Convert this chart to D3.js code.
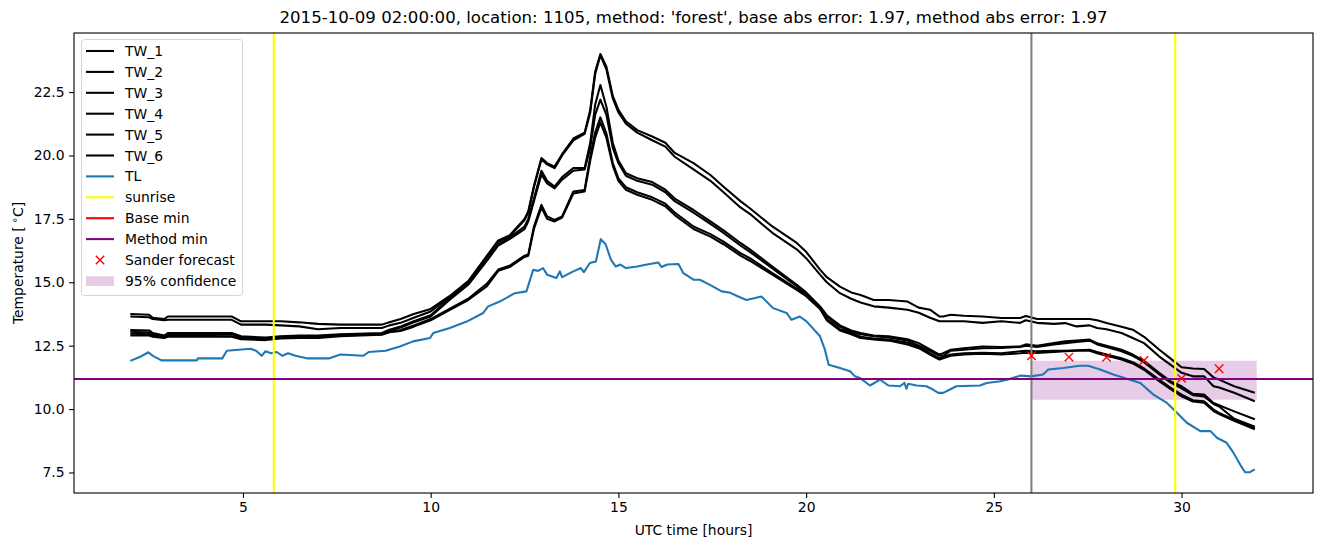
<!DOCTYPE html>
<html><head><meta charset="utf-8">
<script src="https://cdn.jsdelivr.net/npm/d3@7"></script>
<style>body{margin:0;background:#fff}svg{display:block}text{font-family:"DejaVu Sans",sans-serif;fill:#000}</style>
</head><body><svg id="chart" width="1324" height="547"></svg>
<script>
const twHours=[2.0,2.5,2.6,2.9,3.0,4.7,4.95,5.6,6.0,6.5,7.0,7.6,8.7,8.9,9.2,9.55,10.0,10.5,11.0,11.5,11.8,12.1,12.5,12.6,12.75,12.95,13.1,13.3,13.5,13.8,14.1,14.25,14.38,14.52,14.68,14.85,15.0,15.2,15.5,15.9,16.25,16.5,17.0,17.45,17.8,18.25,18.5,19.1,19.75,20.0,20.37,20.55,20.9,21.2,21.45,21.8,22.2,22.7,23.0,23.3,23.55,23.65,23.85,24.2,24.7,25.2,25.7,25.85,26.15,26.6,26.9,27.2,27.55,27.75,28.0,28.4,28.7,29.0,29.4,29.7,30.0,30.3,30.6,30.85,31.0,31.4,31.95];
const tw1=[13.75,13.72,13.6,13.55,13.65,13.65,13.46,13.46,13.46,13.42,13.36,13.33,13.33,13.42,13.55,13.75,13.95,14.45,15.05,16.05,16.65,16.85,17.5,17.8,18.8,19.9,19.7,19.56,20.05,20.67,20.9,21.8,23.3,24.0,23.5,22.35,21.8,21.35,21.0,20.75,20.5,20.1,19.7,19.23,18.77,18.2,17.92,17.2,16.55,16.2,15.5,15.2,14.83,14.6,14.5,14.3,14.3,14.24,14.0,13.92,13.65,13.65,13.72,13.68,13.65,13.59,13.59,13.67,13.55,13.55,13.55,13.55,13.55,13.5,13.39,13.25,13.13,12.85,12.35,12.0,11.65,11.6,11.58,11.25,11.16,10.9,10.64];
const tw2=[13.65,13.62,13.55,13.5,13.52,13.52,13.33,13.33,13.3,13.26,13.15,13.2,13.2,13.3,13.4,13.6,13.85,14.4,15.0,16.0,16.6,16.8,17.45,17.75,18.75,19.85,19.65,19.5,20.0,20.6,20.85,21.7,23.2,23.95,23.4,22.25,21.7,21.25,20.9,20.6,20.35,19.95,19.45,19.0,18.55,17.95,17.7,16.95,16.3,15.95,15.3,15.0,14.57,14.35,14.2,14.05,14.0,13.92,13.8,13.6,13.46,13.46,13.46,13.46,13.4,13.46,13.4,13.5,13.4,13.36,13.39,13.26,13.3,13.2,13.15,13.0,12.8,12.6,12.08,11.75,11.43,11.29,11.29,10.9,10.85,10.64,10.31];
const tw3=[13.12,13.1,13.0,12.9,13.0,13.0,12.87,12.82,12.87,12.9,12.9,12.95,13.0,13.13,13.26,13.46,13.7,14.35,14.95,15.95,16.5,16.75,17.2,17.5,18.3,19.4,19.0,18.77,19.15,19.5,19.5,20.5,22.0,22.78,21.92,20.5,19.8,19.3,19.1,18.95,18.65,18.3,17.85,17.4,17.05,16.55,16.3,15.62,14.9,14.6,14.05,13.7,13.3,13.1,13.0,12.9,12.87,12.75,12.6,12.35,12.15,12.2,12.34,12.4,12.47,12.45,12.47,12.55,12.5,12.6,12.67,12.7,12.74,12.6,12.5,12.34,12.15,11.9,11.43,11.1,10.9,10.6,10.57,10.24,10.15,9.91,9.6];
const tw4=[13.05,13.02,12.95,12.87,12.95,12.95,12.82,12.78,12.85,12.87,12.87,12.93,12.97,13.1,13.22,13.42,13.65,14.3,14.9,15.85,16.45,16.7,17.1,17.4,18.2,19.25,18.9,18.7,19.05,19.4,19.45,20.3,21.6,22.2,21.6,20.3,19.7,19.2,19.0,18.85,18.55,18.2,17.75,17.3,16.95,16.45,16.2,15.55,14.85,14.55,14.0,13.65,13.25,13.05,12.95,12.87,12.82,12.7,12.5,12.3,12.1,12.1,12.3,12.34,12.4,12.41,12.45,12.5,12.45,12.55,12.6,12.65,12.7,12.55,12.45,12.28,12.1,11.85,11.38,11.05,10.82,10.55,10.5,10.2,10.1,9.62,9.3];
const tw5=[12.97,12.95,12.9,12.85,12.9,12.87,12.8,12.74,12.8,12.83,12.83,12.9,12.95,13.05,13.12,13.3,13.55,13.95,14.35,14.95,15.5,15.65,16.05,16.1,17.2,18.05,17.6,17.46,17.6,18.58,18.64,19.96,20.9,21.5,20.87,19.7,19.1,18.75,18.55,18.35,18.1,17.75,17.2,16.9,16.6,16.15,15.95,15.36,14.75,14.5,14.0,13.55,13.15,13.0,12.85,12.78,12.74,12.62,12.45,12.2,12.0,12.05,12.15,12.2,12.22,12.2,12.28,12.3,12.28,12.3,12.3,12.32,12.34,12.25,12.15,12.0,11.85,11.6,11.16,10.85,10.57,10.35,10.31,9.98,9.85,9.58,9.25];
const tw6=[12.9,12.9,12.85,12.8,12.85,12.85,12.75,12.72,12.78,12.8,12.8,12.87,12.93,13.03,13.08,13.25,13.5,13.9,14.3,14.85,15.45,15.6,16.0,16.05,17.1,17.95,17.5,17.4,17.55,18.5,18.58,19.8,20.7,21.3,20.7,19.6,19.0,18.65,18.45,18.25,18.0,17.65,17.1,16.8,16.5,16.05,15.85,15.3,14.7,14.45,13.95,13.5,13.1,12.95,12.8,12.74,12.7,12.55,12.4,12.15,11.95,12.0,12.1,12.15,12.18,12.15,12.2,12.22,12.21,12.25,12.28,12.3,12.3,12.2,12.1,11.95,11.8,11.55,11.1,10.8,10.5,10.3,10.25,9.92,9.8,9.54,9.2];
const tlHours=[2.0,2.25,2.48,2.6,2.83,3.77,3.8,4.45,4.57,5.2,5.35,5.5,5.6,5.75,5.9,6.05,6.2,6.4,6.7,7.3,7.6,8.2,8.35,8.8,9.18,9.53,9.98,10.07,10.51,10.96,11.4,11.53,11.84,12.24,12.55,12.73,12.86,12.99,13.1,13.35,13.44,13.5,13.8,14.0,14.08,14.24,14.4,14.53,14.66,14.8,14.93,15.05,15.2,15.5,15.73,16.06,16.15,16.3,16.6,16.73,17.0,17.17,17.44,17.75,17.95,18.19,18.41,18.81,19.12,19.48,19.61,19.83,20.01,20.37,20.5,20.6,20.9,21.17,21.3,21.43,21.7,21.97,22.19,22.5,22.62,22.67,22.72,22.94,23.2,23.38,23.52,23.65,23.83,24.0,24.63,24.81,25.17,25.35,25.72,25.99,26.31,26.45,26.85,27.29,27.51,27.83,28.18,28.54,28.9,29.25,29.61,29.79,30.14,30.5,30.77,30.94,31.2,31.38,31.56,31.69,31.82,31.95];
const tlValues=[11.9,12.05,12.24,12.1,11.92,11.92,12.0,12.0,12.3,12.38,12.3,12.1,12.28,12.2,12.25,12.1,12.2,12.1,12.0,12.0,12.15,12.1,12.25,12.3,12.47,12.67,12.8,13.0,13.2,13.45,13.79,14.05,14.24,14.57,14.64,15.49,15.45,15.56,15.3,15.17,15.43,15.2,15.43,15.56,15.4,15.76,15.82,16.7,16.5,15.89,15.62,15.7,15.56,15.62,15.69,15.78,15.6,15.7,15.72,15.36,15.1,15.1,14.9,14.64,14.6,14.44,14.3,14.44,13.98,13.79,13.52,13.65,13.46,12.87,12.34,11.75,11.62,11.49,11.29,11.23,10.93,11.16,10.93,10.9,11.03,10.8,11.0,10.93,10.9,10.77,10.64,10.64,10.77,10.9,10.93,11.03,11.1,11.16,11.32,11.29,11.36,11.56,11.62,11.71,11.71,11.56,11.36,11.2,11.03,10.57,10.24,9.98,9.46,9.13,9.13,8.87,8.67,8.28,7.81,7.51,7.51,7.62];
const sunriseHours=[5.82,29.83];
const forecastHour=26;
const baseMin=11.18;
const methodMin=11.18;
const sanderHours=[26,27,28,29,30,31];
const sanderValues=[12.1,12.05,12.04,11.92,11.21,11.59];
const confHours=[26,32];
const confLow=[10.37,10.37];
const confHigh=[11.91,11.91];
const xTicks=[5,10,15,20,25,30];
const yTicks=[7.5,10,12.5,15,17.5,20,22.5];
const legendLabels=["TW_1","TW_2","TW_3","TW_4","TW_5","TW_6","TL","sunrise","Base min","Method min","Sander forecast","95% confidence"];
const titleText="2015-10-09 02:00:00, location: 1105, method: 'forest', base abs error: 1.97, method abs error: 1.97";

const svg=d3.select("#chart");
const L=74,R=1313,T=33,B=493;
const LW=2.08;
const x=d3.scaleLinear().domain([0.5,33.5]).range([L,R]);
const y=d3.scaleLinear().domain([6.69,24.83]).range([B,T]);
svg.append("defs").append("clipPath").attr("id","clip").append("rect").attr("x",L).attr("y",T).attr("width",R-L).attr("height",B-T);
const plot=svg.append("g").attr("clip-path","url(#clip)");
const line=d3.line().x(d=>x(d[0])).y(d=>y(d[1]));
const zip=(a,b)=>a.map((v,i)=>[v,b[i]]);

const area=d3.area().x(d=>x(d[0])).y0(d=>y(d[1])).y1(d=>y(d[2]));
plot.append("path").datum(confHours.map((h,i)=>[h,confLow[i],confHigh[i]])).attr("d",area).attr("fill","rgb(230,204,230)");

[tw1,tw2,tw3,tw4,tw5,tw6].forEach(s=>{
  plot.append("path").datum(zip(twHours,s)).attr("d",line).attr("fill","none").attr("stroke","#000").attr("stroke-width",LW).attr("stroke-linejoin","round");
});
plot.append("path").datum(zip(tlHours,tlValues)).attr("d",line).attr("fill","none").attr("stroke","#1f77b4").attr("stroke-width",LW).attr("stroke-linejoin","round");
plot.append("line").attr("x1",x(forecastHour)).attr("x2",x(forecastHour)).attr("y1",T).attr("y2",B).attr("stroke","#808080").attr("stroke-width",LW);
sunriseHours.forEach(h=>plot.append("line").attr("x1",x(h)).attr("x2",x(h)).attr("y1",T).attr("y2",B).attr("stroke","#ffff00").attr("stroke-width",LW));
plot.append("line").attr("x1",L).attr("x2",R).attr("y1",Math.round(y(baseMin))).attr("y2",Math.round(y(baseMin))).attr("stroke","#ff0000").attr("stroke-width",2).attr("shape-rendering","crispEdges");
plot.append("line").attr("x1",L).attr("x2",R).attr("y1",Math.round(y(methodMin))).attr("y2",Math.round(y(methodMin))).attr("stroke","#800080").attr("stroke-width",2).attr("shape-rendering","crispEdges");
const xm=4.2;
sanderHours.forEach((h,i)=>{
  const cx=x(h),cy=y(sanderValues[i]);
  plot.append("path").attr("d",`M${cx-xm},${cy-xm}L${cx+xm},${cy+xm}M${cx-xm},${cy+xm}L${cx+xm},${cy-xm}`).attr("stroke","#ff0000").attr("stroke-width",1.4).attr("fill","none");
});

const xa=svg.append("g").attr("transform",`translate(0,${B})`).call(d3.axisBottom(x).tickValues(xTicks).tickFormat(d3.format("d")).tickSize(4.9).tickPadding(4.5));
const ya=svg.append("g").attr("transform",`translate(${L},0)`).call(d3.axisLeft(y).tickValues(yTicks).tickFormat(d3.format(".1f")).tickSize(4.9).tickPadding(4.5));
[xa,ya].forEach(a=>{a.select(".domain").remove();a.selectAll("line").attr("stroke","#000").attr("stroke-width",1.1);a.selectAll("text").attr("font-size","13.9px").attr("font-family","DejaVu Sans").attr("fill","#000");});
svg.append("rect").attr("x",L).attr("y",T).attr("width",R-L).attr("height",B-T).attr("fill","none").attr("stroke","#000").attr("stroke-width",1.1);

svg.append("text").attr("x",(L+R)/2).attr("y",23).attr("text-anchor","middle").attr("font-size","16.6px").text(titleText);
svg.append("text").attr("x",(L+R)/2).attr("y",535).attr("text-anchor","middle").attr("font-size","13.9px").text("UTC time [hours]");
const yl=svg.append("text").attr("transform",`translate(23,${(T+B)/2}) rotate(-90)`).attr("text-anchor","middle").attr("font-size","13.9px");
yl.append("tspan").text("Temperature [");
yl.append("tspan").attr("font-size","10px").attr("dx","3").attr("dy","-5").text("∘");
yl.append("tspan").attr("dy","5").text("C]");

const lg=svg.append("g");
lg.append("rect").attr("x",81.5).attr("y",39.5).attr("width",161).attr("height",256).attr("rx",3).attr("fill","rgba(255,255,255,0.8)").attr("stroke","#d6d6d6").attr("stroke-width",1);
const lColors=["#000","#000","#000","#000","#000","#000","#1f77b4","#ffff00","#ff0000","#800080"];
legendLabels.forEach((lab,i)=>{
  const cy=51+i*20.9;
  if(i<10){
    lg.append("line").attr("x1",86).attr("x2",114).attr("y1",cy).attr("y2",cy).attr("stroke",lColors[i]).attr("stroke-width",LW);
  } else if(i===10){
    lg.append("path").attr("d",`M${100-xm},${cy-xm}L${100+xm},${cy+xm}M${100-xm},${cy+xm}L${100+xm},${cy-xm}`).attr("stroke","#ff0000").attr("stroke-width",1.4);
  } else {
    lg.append("rect").attr("x",86).attr("y",cy-4.5).attr("width",28).attr("height",9.5).attr("fill","rgb(230,204,230)");
  }
  lg.append("text").attr("x",125).attr("y",cy+5).attr("font-size","13.9px").text(lab);
});
</script></body></html>
